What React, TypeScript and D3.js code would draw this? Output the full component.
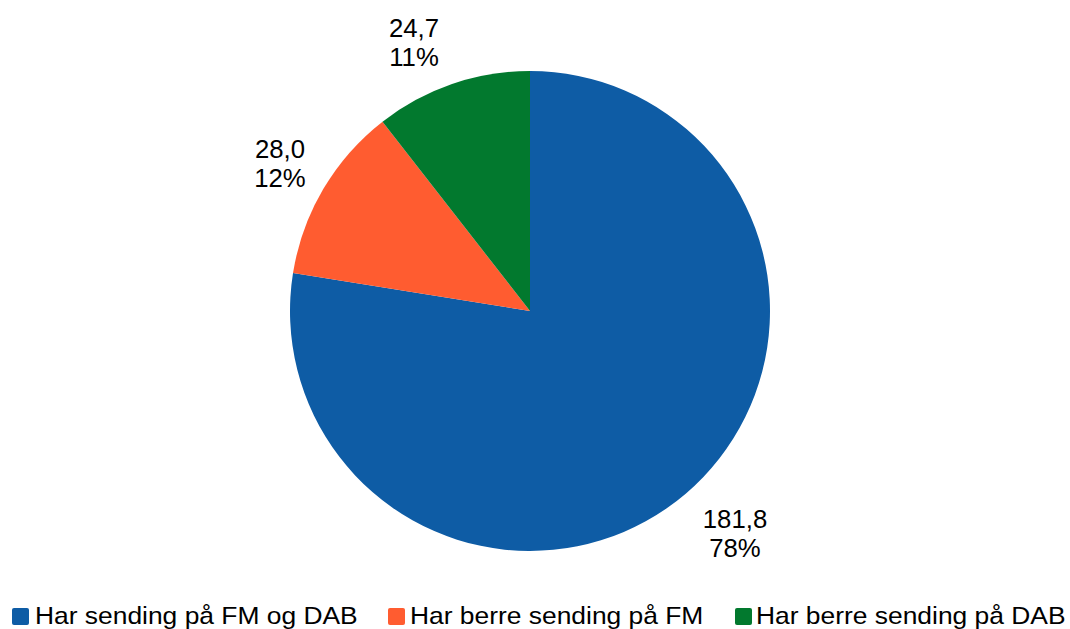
import React from "react";
import * as d3 from "d3";

const categories = ["Har sending på FM og DAB", "Har berre sending på FM", "Har berre sending på DAB"];
const values = [181.8, 28.0, 24.7];
const valueLabels = ["181,8", "28,0", "24,7"];
const percentLabels = ["78%", "12%", "11%"];
const colors = ["#0E5CA5", "#FF5C30", "#02792E"];

const W = 1070;
const H = 629;
const cx = 530;
const cy = 311;
const R = 240;
const labelPos = [
  [735, 528],
  [280, 158],
  [414, 37],
];
const legendX = [12, 388, 735];
const textX = [35, 410, 756];

export default function App() {
  const pie = d3.pie<number>().sort(null).value((d) => d)(values);
  const arc = d3.arc<d3.PieArcDatum<number>>().innerRadius(0).outerRadius(R);
  return (
    <svg width={W} height={H} style={{ position: "absolute", left: 0, top: 0, background: "#fff" }}
      fontFamily="'Liberation Sans', Arial, sans-serif">
      <g transform={`translate(${cx},${cy})`}>
        {pie.map((p, i) => (
          <path key={i} d={arc(p) || ""} fill={colors[i]} />
        ))}
      </g>
      {values.map((_, i) => (
        <text key={i} transform={`translate(${labelPos[i][0]},${labelPos[i][1]}) scale(1.03,1)`} textAnchor="middle" fontSize={25} fill="#000">
          <tspan x={0}>{valueLabels[i]}</tspan>
          <tspan x={0} dy={29}>{percentLabels[i]}</tspan>
        </text>
      ))}
      {categories.map((c, i) => (
        <g key={i}>
          <rect x={legendX[i]} y={608} width={17} height={17} rx={2} fill={colors[i]} />
          <text transform={`translate(${textX[i]},624) scale(1.1,1)`} fontSize={24} fill="#000">{c}</text>
        </g>
      ))}
    </svg>
  );
}
